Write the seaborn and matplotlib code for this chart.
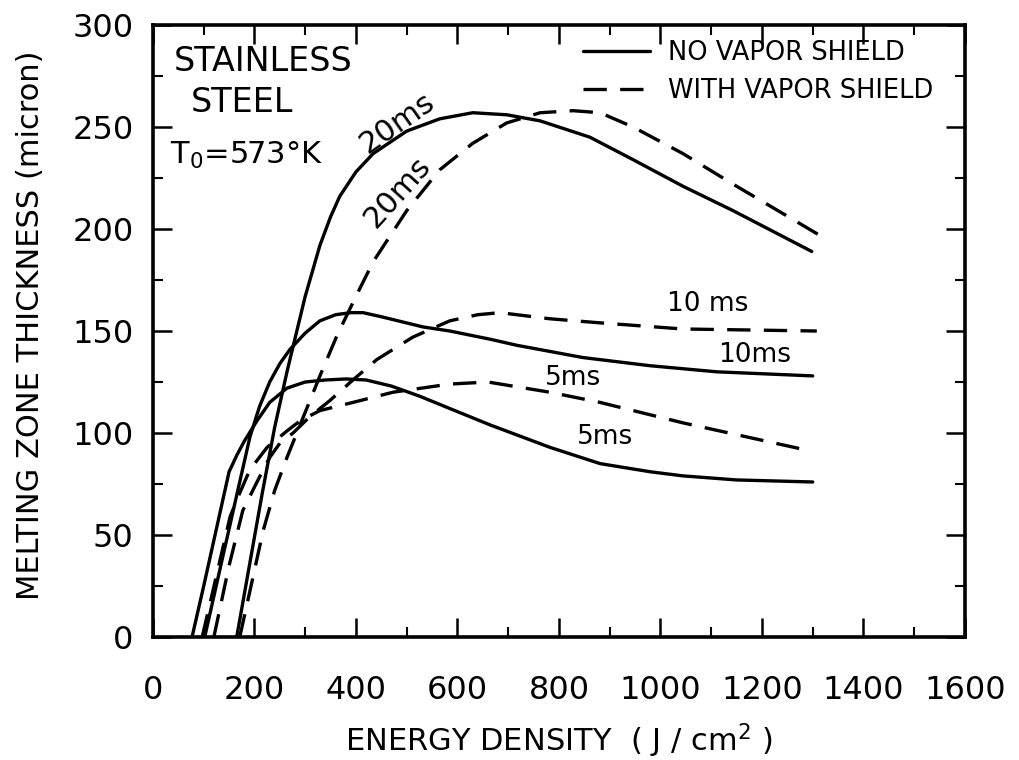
import matplotlib
matplotlib.use("Agg")
import matplotlib.pyplot as plt
from matplotlib.lines import Line2D
from matplotlib.ticker import MultipleLocator
import numpy as np
import pandas as pd
import seaborn as sns

# ---------------- data ----------------
no5_x = [77, 100, 125, 150, 165, 180, 205, 230, 264, 300, 340, 380, 420, 470, 526, 585, 664, 782, 881, 980, 1044, 1150, 1300]
no5_y = [0, 25, 53, 81, 89, 96, 106, 115, 122, 125, 126, 126.5, 126, 123, 118, 112, 104, 93, 85, 81, 79, 77, 76]

no10_x = [102, 130, 160, 191, 210, 230, 250, 270, 300, 329, 360, 390, 414, 450, 532, 585, 664, 717, 847, 979, 1111, 1300]
no10_y = [0, 31, 64, 98, 113, 125, 134, 141, 149, 155, 158, 159, 159, 157, 152, 150, 146, 143, 137, 133, 130, 128]

no20_x = [165, 190, 215, 240, 265, 300, 329, 350, 368, 400, 434, 500, 565, 630, 697, 763, 861, 946, 1044, 1143, 1298]
no20_y = [0, 35, 70, 103, 131, 167, 192, 206, 216, 228, 237, 248, 254, 257, 256, 253, 245, 234, 221, 209, 189]

w5_x = [97, 125, 152, 170, 191, 225, 264, 290, 329, 394, 473, 585, 660, 782, 881, 1044, 1281]
w5_y = [0, 30, 59, 70, 82, 93, 101, 106, 111, 115, 120, 124, 125, 120, 115, 105, 92]

w10_x = [120, 150, 177, 207, 230, 250, 276, 309, 349, 394, 441, 512, 585, 640, 684, 782, 881, 1044, 1308]
w10_y = [0, 35, 62, 77, 88, 95, 100, 108, 116, 126, 136, 147, 155, 158, 159, 156, 154, 151, 150]

w20_x = [171, 195, 217, 240, 264, 290, 329, 363, 400, 434, 500, 565, 630, 697, 763, 828, 881, 946, 1044, 1143, 1320]
w20_y = [0, 27, 52, 72, 88, 104, 128, 148, 167, 184, 209, 229, 242, 252, 257, 258, 257, 250, 237, 222, 196]

shield_labels = ["NO VAPOR SHIELD", "WITH VAPOR SHIELD"]
x_ticks = [0, 200, 400, 600, 800, 1000, 1200, 1400, 1600]
y_ticks = [0, 50, 100, 150, 200, 250, 300]

series = [
    ("5ms", shield_labels[0], no5_x, no5_y),
    ("10ms", shield_labels[0], no10_x, no10_y),
    ("20ms", shield_labels[0], no20_x, no20_y),
    ("5ms", shield_labels[1], w5_x, w5_y),
    ("10ms", shield_labels[1], w10_x, w10_y),
    ("20ms", shield_labels[1], w20_x, w20_y),
]
rows = []
for pulse, shield, xs, ys in series:
    for xv, yv in zip(xs, ys):
        rows.append({"energy": xv, "thickness": yv, "shield": shield,
                     "curve": f"{pulse} {shield}"})
df = pd.DataFrame(rows)

# ---------------- style ----------------
sns.set_theme(style="ticks")
plt.rcParams["font.family"] = ["DejaVu Sans"]
plt.rcParams["mathtext.fontset"] = "dejavusans"
for key in ["text.color", "axes.labelcolor", "xtick.color", "ytick.color", "axes.edgecolor"]:
    plt.rcParams[key] = "black"

fig = plt.figure(figsize=(10.19, 7.60), dpi=100)
ax = fig.add_axes([0.1501, 0.1618, 0.7969, 0.8053])

DASH = (7, 4)
LW = 2.4
sns.lineplot(data=df, x="energy", y="thickness", style="shield",
             units="curve", estimator=None, sort=False,
             dashes={shield_labels[0]: "", shield_labels[1]: DASH},
             color="black", lw=LW, legend=False, ax=ax)

ax.set_xlim(0, 1600)
ax.set_ylim(0, 300)
ax.set_xticks(x_ticks)
ax.set_yticks(y_ticks)
ax.xaxis.set_minor_locator(MultipleLocator(100))
ax.yaxis.set_minor_locator(MultipleLocator(25))
ax.set_xticklabels([str(v) for v in x_ticks], fontsize=23)
ax.set_yticklabels([str(v) for v in y_ticks], fontsize=23)
ax.tick_params(which="both", direction="in", top=True, right=True, colors="black")
ax.tick_params(which="major", length=14, width=1.8)
ax.tick_params(which="minor", length=7, width=1.5)
ax.tick_params(axis="x", which="major", pad=27)
ax.tick_params(axis="y", which="major", pad=14)
for sp in ax.spines.values():
    sp.set_linewidth(2.6)
    sp.set_color("black")

ax.set_xlabel("ENERGY DENSITY  ( J / cm$^2$ )", fontsize=22)
ax.set_ylabel("MELTING ZONE THICKNESS (micron)", fontsize=22)
ax.xaxis.set_label_coords(0.5, -0.138)
ax.yaxis.set_label_coords(-0.133, 0.51)

# material annotation
ax.text(217, 282, "STAINLESS", fontsize=24, ha="center", va="center")
ax.text(175, 262, "STEEL", fontsize=24, ha="center", va="center")
ax.text(185, 236, "T$_0$=573°K", fontsize=22, ha="center", va="center")

# curve labels
ax.text(481, 252, "20ms", fontsize=22, rotation=35, rotation_mode="anchor",
        ha="center", va="center")
ax.text(483, 218, "20ms", fontsize=22, rotation=48, rotation_mode="anchor",
        ha="center", va="center")
ax.text(1094, 163, "10 ms", fontsize=19, ha="center", va="center")
ax.text(1186, 138, "10ms", fontsize=19, ha="center", va="center")
ax.text(828, 127, "5ms", fontsize=19, ha="center", va="center")
ax.text(891, 98, "5ms", fontsize=19, ha="center", va="center")

# legend
handles = [Line2D([], [], color="black", lw=LW),
           Line2D([], [], color="black", lw=LW, dashes=DASH)]
ax.legend(handles, shield_labels, loc="upper left", bbox_to_anchor=(0.53, 0.9755),
          frameon=False, fontsize=18.5, handlelength=2.6, handletextpad=0.7,
          borderpad=0, borderaxespad=0, labelspacing=0.47)

fig.savefig("out.png", dpi=100, facecolor="white")
